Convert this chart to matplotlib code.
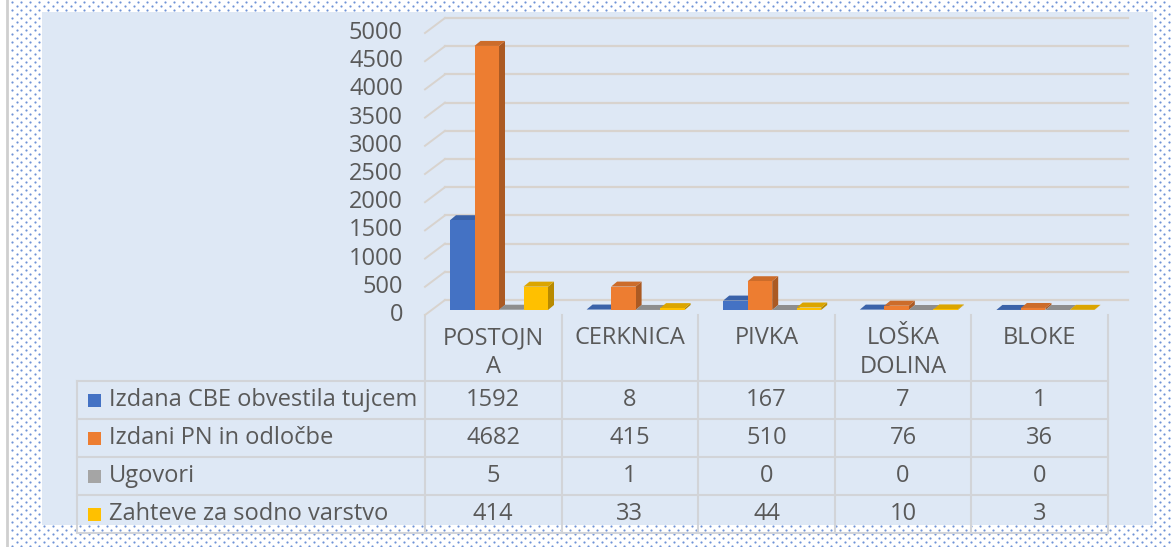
import numpy as np
import matplotlib
matplotlib.use("Agg")
import matplotlib.pyplot as plt
from matplotlib.patches import Rectangle, Polygon
from matplotlib.colors import to_rgb

# --- data ---
cat_labels = ["POSTOJN\nA", "CERKNICA", "PIVKA", "LOŠKA\nDOLINA", "BLOKE"]
series_names = ["Izdana CBE obvestila tujcem", "Izdani PN in odločbe",
                "Ugovori", "Zahteve za sodno varstvo"]
cbe_obvestila = [1592, 8, 167, 7, 1]
pn_odlocbe = [4682, 415, 510, 76, 36]
ugovori = [5, 1, 0, 0, 0]
zahteve = [414, 33, 44, 10, 3]
series_values = [cbe_obvestila, pn_odlocbe, ugovori, zahteve]
yticks = [0, 500, 1000, 1500, 2000, 2500, 3000, 3500, 4000, 4500, 5000]

colors = ["#4472C4", "#ED7D31", "#A5A5A5", "#FFC000"]
txt_color = "#595959"
bg_color = "#DEE8F5"
grid_color = "#D8D3CE"
table_color = "#D2D4D8"

plt.rcParams['font.family'] = ['Open Sans', 'DejaVu Sans']
FS = 17

W, H = 1171, 547
fig = plt.figure(figsize=(W / 100, H / 100), dpi=100)

# canvas in pixel coordinates (background + data table)
cv = fig.add_axes([0, 0, 1, 1])
cv.set_xlim(0, W)
cv.set_ylim(H, 0)
cv.axis('off')

# dotted border
cv.add_patch(Rectangle((0, 0), W, H, facecolor='white', edgecolor='none', zorder=0))
rows = np.arange(0, H // 4 + 1)
cols = np.arange(0, W // 9 + 2)
ci, ri = np.meshgrid(cols, rows)
gx = 12 + ci * 9.0 + (ri % 2) * 4.5
gy = 2 + ri * 4.0
mask = ~((gx > 40) & (gx < 1154) & (gy > 10) & (gy < 525))
cv.scatter(gx[mask], gy[mask], s=2.5, marker='o', color='#6F93D6', linewidths=0, zorder=1)
cv.plot([7, 7], [0, H], color='#CFCFCF', lw=2, zorder=1)
cv.add_patch(Rectangle((42, 12), 1111, 513, facecolor=bg_color, edgecolor='none', zorder=2))

# chart axes
x_left_px, x_right_px = 425, 1108
y_zero_px, y_top_px = 315, 33
ax = fig.add_axes([x_left_px / W, (H - y_zero_px) / H,
                   (x_right_px - x_left_px) / W, (y_zero_px - y_top_px) / H])
ax.set_xlim(-0.5, 4.5)
ax.set_ylim(0, 5000)
ax.axis('off')
ax.patch.set_alpha(0)

px_x = 5 / (x_right_px - x_left_px)
px_y = 5000 / (y_zero_px - y_top_px)

# back wall gridlines with diagonal to front
wall_dx, wall_dy = 20 * px_x, 15 * px_y
for v in yticks:
    ax.plot([-0.5, -0.5 + wall_dx], [v, v + wall_dy], color=grid_color, lw=1.4,
            clip_on=False, zorder=1)
    ax.plot([-0.5 + wall_dx, 4.5 + wall_dx], [v + wall_dy, v + wall_dy],
            color=grid_color, lw=1.6, clip_on=False, zorder=1)
    ax.text(-0.5 - 22 * px_x, v, str(v), ha='right', va='center', fontsize=FS,
            color=txt_color)


def shade(c, f):
    r, g, b = to_rgb(c)
    return (r * f, g * f, b * f)


# 3d bars
base = 5 * px_y
bw = 24.5 * px_x
ddx, ddy = 6 * px_x, 5 * px_y
for i in range(len(cat_labels)):
    for j, vals in enumerate(series_values):
        x0 = i - 0.5 + (25 + 24.5 * j) * px_x
        top = base + vals[i]
        c = colors[j]
        side = Polygon([(x0 + bw, base), (x0 + bw + ddx, base + ddy),
                        (x0 + bw + ddx, top + ddy), (x0 + bw, top)],
                       closed=True, facecolor=shade(c, 0.72), edgecolor='none',
                       clip_on=False, zorder=3)
        topf = Polygon([(x0, top), (x0 + bw, top), (x0 + bw + ddx, top + ddy),
                        (x0 + ddx, top + ddy)], closed=True,
                       facecolor=shade(c, 0.86), edgecolor='none', clip_on=False, zorder=3)
        front = Rectangle((x0, base), bw, vals[i], facecolor=c, edgecolor='none',
                          clip_on=False, zorder=3)
        ax.add_patch(side)
        ax.add_patch(topf)
        ax.add_patch(front)

# data table (pixel coordinates)
col_w = (x_right_px - x_left_px) / len(cat_labels)
col_edges = [x_left_px + k * col_w for k in range(len(cat_labels) + 1)]
row_edges = [381, 419, 457, 495, 533]
legend_left = 77

for x in col_edges:
    cv.plot([x, x], [315, row_edges[-1]], color=table_color, lw=1.5, zorder=3)
cv.plot([legend_left, legend_left], [row_edges[0], row_edges[-1]], color=table_color,
        lw=1.5, zorder=3)
for y in row_edges:
    cv.plot([legend_left, col_edges[-1]], [y, y], color=table_color, lw=1.5, zorder=3)

for k, lab in enumerate(cat_labels):
    cx = (col_edges[k] + col_edges[k + 1]) / 2
    cv.text(cx, 326, lab, ha='center', va='top', fontsize=FS, color=txt_color,
            linespacing=1.28, zorder=4)

for r, (name, vals) in enumerate(zip(series_names, series_values)):
    cy = (row_edges[r] + row_edges[r + 1]) / 2
    cv.add_patch(Rectangle((88, cy - 6.5), 13, 13, facecolor=colors[r],
                           edgecolor='none', zorder=4))
    cv.text(109, cy, name, ha='left', va='center', fontsize=FS, color=txt_color, zorder=4)
    for k, v in enumerate(vals):
        cx = (col_edges[k] + col_edges[k + 1]) / 2
        cv.text(cx, cy, str(v), ha='center', va='center', fontsize=FS,
                color=txt_color, zorder=4)

fig.savefig("out.png", dpi=100)
